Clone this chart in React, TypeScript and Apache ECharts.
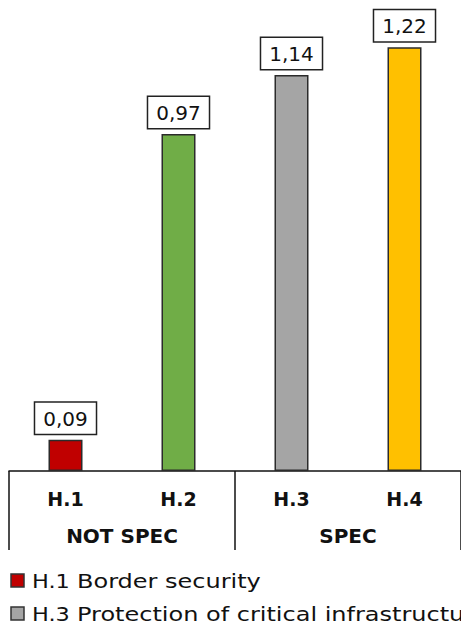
import React, { useEffect, useRef } from "react";
import * as echarts from "echarts";

const categories = ["H.1", "H.2", "H.3", "H.4"];
const groups = ["NOT SPEC", "SPEC"];
const values = [0.09, 0.97, 1.14, 1.22];
const colors = ["#C00000", "#70AD47", "#A5A5A5", "#FFC000"];
const legendItems = [
  { code: "H.1", name: "Border security", color: "#C00000" },
  { code: "H.3", name: "Protection of critical infrastructure", color: "#A5A5A5" },
];

const FONT = "DejaVu Sans, Verdana, sans-serif";

export default function App() {
  const ref = useRef<HTMLDivElement>(null);
  useEffect(() => {
    if (!ref.current) return;
    const chart = echarts.init(ref.current, null, { renderer: "svg" });
    const graphic: any[] = [];
    legendItems.forEach((it, i) => {
      const cy = 581 + i * 33;
      graphic.push({
        type: "rect",
        shape: { x: 11, y: cy - 7, width: 13, height: 13 },
        style: { fill: it.color, stroke: "#333", lineWidth: 1.5 },
      });
      graphic.push({
        type: "text",
        x: 32,
        y: cy,
        scaleX: 1.12,
        style: {
          text: it.code,
          fill: "#111",
          font: `20px ${FONT}`,
          textVerticalAlign: "middle",
        },
      });
      graphic.push({
        type: "text",
        x: 77,
        y: cy,
        scaleX: 1.2,
        style: {
          text: it.name,
          fill: "#111",
          font: `20px ${FONT}`,
          textVerticalAlign: "middle",
        },
      });
    });
    chart.setOption({
      animation: false,
      grid: { left: 9, right: -2, top: 2, bottom: 159, containLabel: false },
      xAxis: [
        {
          type: "category",
          data: categories,
          position: "bottom",
          axisLine: { show: true, lineStyle: { color: "#111", width: 1.5 } },
          axisTick: { show: false },
          axisLabel: {
            margin: 18,
            fontFamily: FONT,
            fontWeight: "bold",
            fontSize: 19,
            color: "#111",
          },
        },
        {
          type: "category",
          data: groups,
          position: "bottom",
          axisLine: { show: false },
          axisTick: { show: true, length: 79, lineStyle: { color: "#111", width: 1.5 } },
          axisLabel: {
            margin: 55,
            fontFamily: FONT,
            fontWeight: "bold",
            fontSize: 20,
            color: "#111",
          },
        },
      ],
      yAxis: { type: "value", min: 0, max: 1.35, show: false },
      series: [
        {
          type: "bar",
          xAxisIndex: 0,
          barWidth: 34,
          data: values.map((v, i) => ({
            value: v,
            itemStyle: { color: colors[i], borderColor: "#2b2b2b", borderWidth: 1.5 },
          })),
          label: {
            show: true,
            position: "top",
            distance: 6,
            formatter: (p: any) => p.value.toFixed(2).replace(".", ","),
            fontFamily: FONT,
            fontSize: 20,
            color: "#111",
            backgroundColor: "#fff",
            borderColor: "#222",
            borderWidth: 1.5,
            padding: [5, 8, 4, 8],
            lineHeight: 22,
          },
        },
      ],
      graphic,
    });
    return () => chart.dispose();
  }, []);
  return (
    <div
      ref={ref}
      style={{ position: "fixed", left: 0, top: 0, width: 461, height: 630, background: "#fff" }}
    />
  );
}
